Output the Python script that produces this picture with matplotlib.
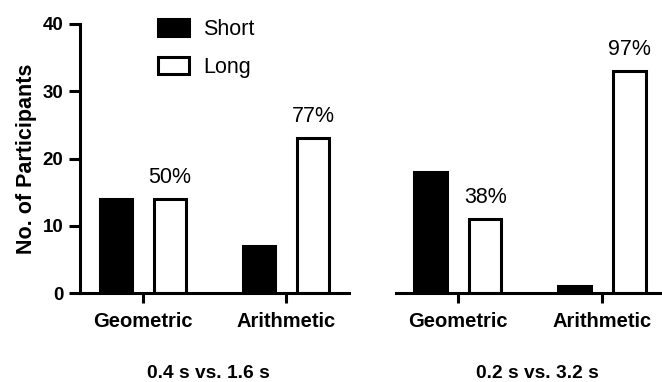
import matplotlib
matplotlib.use("Agg")
import matplotlib.pyplot as plt
from matplotlib.patches import Patch

plt.rcParams["font.family"] = ["Liberation Sans", "DejaVu Sans"]

categories = ["Geometric", "Arithmetic"]
group_titles = ["0.4 s vs. 1.6 s", "0.2 s vs. 3.2 s"]
short_counts = [[14, 7], [18, 1]]
long_counts = [[14, 23], [11, 33]]
series_names = ["Short", "Long"]


def pct_long(s, l):
    return f"{round(100 * l / (s + l))}%"


W, H = 662, 382
fig = plt.figure(figsize=(W / 100, H / 100), dpi=100)

lw = 2.2
axes_px = [(80, 349), (396, 662)]
y0_px, y1_px = 293, 24
xlims = [(-0.44, 1.44), (-0.43, 1.417)]
offset = 0.19
bw = 0.225

axes = []
for i, (xa, xb) in enumerate(axes_px):
    ax = fig.add_axes([xa / W, 1 - y0_px / H, (xb - xa) / W, (y0_px - y1_px) / H])
    axes.append(ax)
    xs = list(range(len(categories)))
    s = short_counts[i]
    l = long_counts[i]
    ax.bar([x - offset for x in xs], s, width=bw, color="black",
           edgecolor="black", linewidth=lw)
    ax.bar([x + offset for x in xs], l, width=bw, color="white",
           edgecolor="black", linewidth=lw)
    for x, sv, lv in zip(xs, s, l):
        ax.annotate(pct_long(sv, lv), (x + offset, lv), xytext=(0, 11.5),
                    textcoords="offset points", ha="center", va="baseline",
                    fontsize=15.5)
    ax.set_xlim(*xlims[i])
    ax.set_ylim(0, 40)
    ax.set_xticks(xs)
    ax.set_xticklabels(categories, fontsize=14.5, fontweight="bold")
    ax.tick_params(axis="x", length=7, width=lw, pad=7)
    for sp in ["top", "right"]:
        ax.spines[sp].set_visible(False)
    ax.spines["bottom"].set_linewidth(lw)
    ax.spines["left"].set_linewidth(lw)
    if i == 0:
        ax.set_yticks([0, 10, 20, 30, 40])
        ax.tick_params(axis="y", length=8, width=lw, pad=4, labelsize=13.5)
        for t in ax.get_yticklabels():
            t.set_fontweight("bold")
        ax.set_ylabel("No. of Participants", fontsize=15.5, fontweight="bold",
                      labelpad=4)
    else:
        ax.spines["left"].set_visible(False)
        ax.set_yticks([])
    ax.patch.set_alpha(0)

fig.text(208 / W, 1 - 373 / H, group_titles[0], ha="center", va="center",
         fontsize=13.8, fontweight="bold")
fig.text(537 / W, 1 - 373 / H, group_titles[1], ha="center", va="center",
         fontsize=13.8, fontweight="bold")

handles = [Patch(facecolor="black", edgecolor="black", linewidth=lw),
           Patch(facecolor="white", edgecolor="black", linewidth=lw)]
fig.legend(handles, series_names, loc="upper left",
           bbox_to_anchor=(143 / W, 1 - 4 / H), frameon=False, fontsize=15.5,
           handlelength=1.45, handleheight=0.85, handletextpad=0.65,
           labelspacing=0.8, borderpad=0.2)

fig.savefig("out.png", dpi=100)
